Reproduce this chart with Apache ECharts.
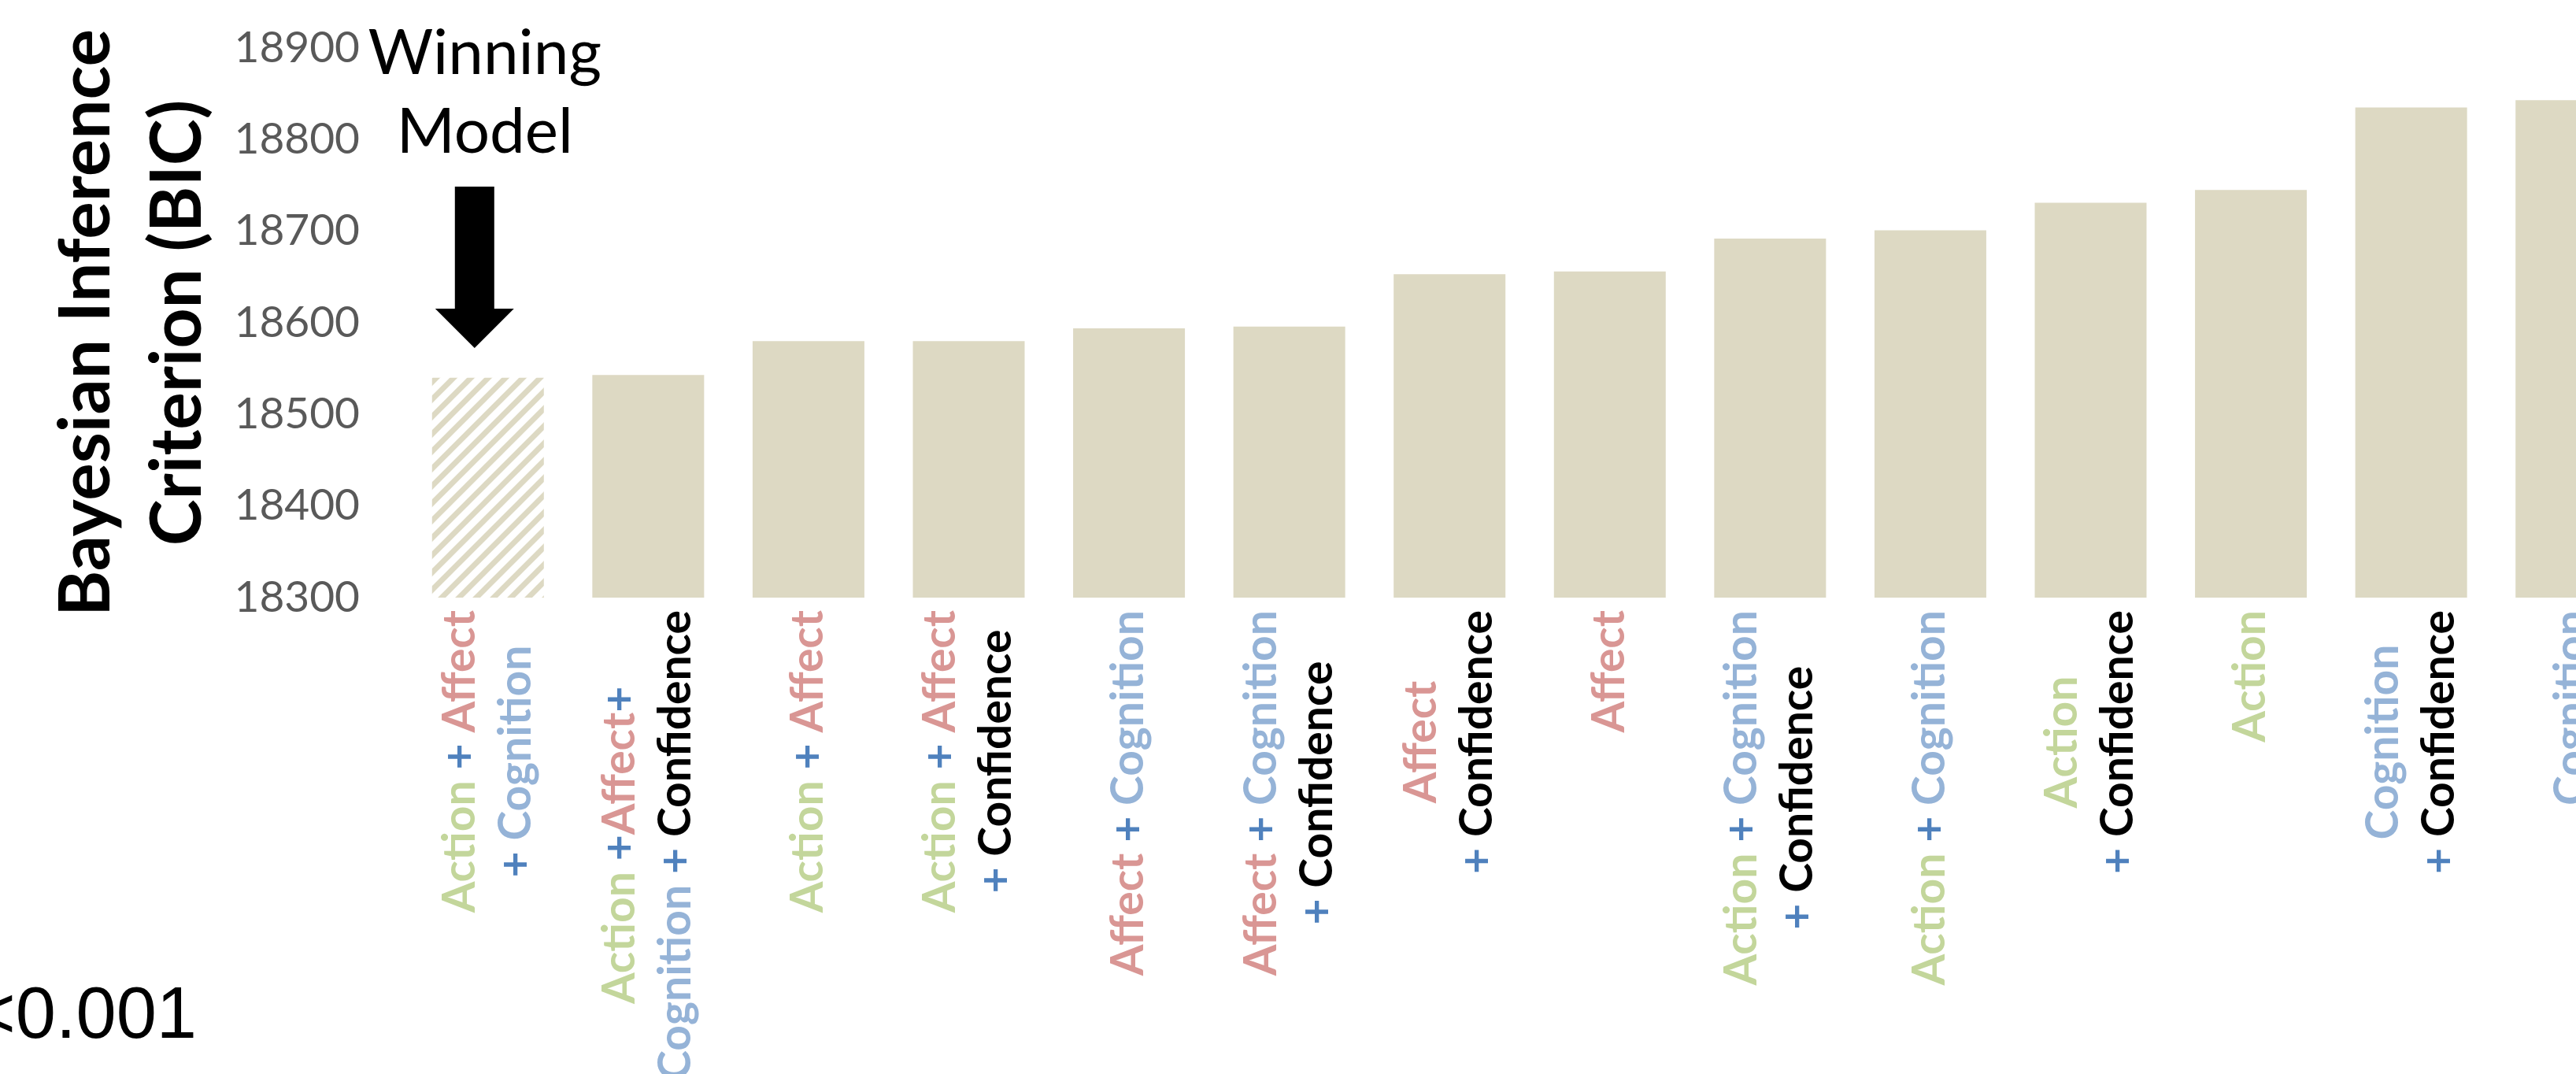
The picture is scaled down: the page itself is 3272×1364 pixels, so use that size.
<!DOCTYPE html>
<html>
<head>
<meta charset="utf-8">
<title>BIC model comparison</title>
<script src="https://cdn.jsdelivr.net/npm/echarts@6/dist/echarts.min.js"></script>
<style>
  html, body { margin: 0; padding: 0; background: #fff; }
  #chart { width: 3272px; height: 1364px; }
</style>
</head>
<body>
<div id="chart"></div>
<script>
// model names (x categories), one line break where the original wraps
const models = [
  'Action + Affect\n+ Cognition',
  'Action +Affect+\nCognition + Confidence',
  'Action + Affect',
  'Action + Affect\n+ Confidence',
  'Affect + Cognition',
  'Affect + Cognition\n+ Confidence',
  'Affect\n+ Confidence',
  'Affect',
  'Action + Cognition\n+ Confidence',
  'Action + Cognition',
  'Action\n+ Confidence',
  'Action',
  'Cognition\n+ Confidence',
  'Cognition'
];
// BIC per model
const bic = [18540, 18543, 18580, 18580, 18594, 18596, 18653, 18656, 18692, 18701, 18731, 18745, 18835, 18843];
// y axis ticks
const yMin = 18300;
const yMax = 18900;
const yStep = 100;

const barColor = '#DDD9C3';
const wordStyle = { Action: 'a', Affect: 'f', Cognition: 'c', Confidence: 'k' };

// every piece of the label goes through a rich style, so lines can be centred
function richLabel(txt) {
  return txt.split('\n').map(function (line) {
    return line.split(/(\+|\s+)/).filter(function (s) { return s; }).map(function (tok) {
      if (tok === '+') return '{p|+}';
      if (/^\s+$/.test(tok)) return '{s|' + tok + '}';
      return '{' + wordStyle[tok] + '|' + tok + '}';
    }).join('');
  }).join('\n');
}

function hatch() {
  const c = document.createElement('canvas');
  c.width = 22; c.height = 22;
  const g = c.getContext('2d');
  g.fillStyle = '#fff';
  g.fillRect(0, 0, 22, 22);
  g.strokeStyle = barColor;
  g.lineWidth = 7;
  g.beginPath();
  g.moveTo(-11, 11); g.lineTo(11, -11);
  g.moveTo(0, 22); g.lineTo(22, 0);
  g.moveTo(11, 33); g.lineTo(33, 11);
  g.stroke();
  return c;
}

const labelFont = { fontFamily: 'Lato', fontWeight: 'bold', fontSize: 57, lineHeight: 71, align: 'center' };
const rich = {
  a: Object.assign({ color: '#C3D69B' }, labelFont),
  f: Object.assign({ color: '#D99694' }, labelFont),
  c: Object.assign({ color: '#95B3D7' }, labelFont),
  k: Object.assign({ color: '#000000' }, labelFont),
  p: Object.assign({ color: '#4F81BD' }, labelFont),
  s: Object.assign({ color: '#000000' }, labelFont)
};

const chart = echarts.init(document.getElementById('chart'));

const option = {
  animation: false,
  backgroundColor: '#fff',
  grid: {
    left: 518,
    right: -96,
    top: 61,
    bottom: 605,
    containLabel: false,
    outerBoundsMode: 'none'
  },
  xAxis: {
    type: 'category',
    data: models,
    axisLine: { show: false },
    axisTick: { show: false },
    axisLabel: {
      interval: 0,
      rotate: 90,
      margin: 16,
      formatter: richLabel,
      rich: rich
    }
  },
  yAxis: {
    type: 'value',
    min: yMin,
    max: yMax,
    interval: yStep,
    name: 'Bayesian Inference\nCriterion (BIC)',
    nameLocation: 'middle',
    nameRotate: 90,
    nameGap: 234,
    nameTextStyle: {
      fontFamily: 'Lato',
      fontWeight: 'bold',
      fontSize: 89,
      lineHeight: 116,
      color: '#000'
    },
    axisLine: { show: false },
    axisTick: { show: false },
    splitLine: { show: false },
    axisLabel: {
      margin: 61,
      color: '#595959',
      fontFamily: 'Lato',
      fontSize: 55,
      formatter: function (v) { return String(v); }
    }
  },
  series: [{
    type: 'bar',
    barWidth: 142,
    itemStyle: { color: barColor },
    data: bic.map(function (v, i) {
      return i === 0 ? { value: v, itemStyle: { color: { image: hatch(), repeat: 'repeat' } } } : v;
    })
  }]
};
chart.setOption(option);

// annotations anchored on the winning bar
const win = chart.convertToPixel({ seriesIndex: 0 }, [0, bic[0]]);
const ax = win[0] - 17;
chart.setOption({
  graphic: [
    {
      type: 'text',
      x: win[0] - 4,
      y: 18,
      style: {
        text: 'Winning\nModel',
        fontFamily: 'Lato',
        fontSize: 80,
        lineHeight: 100,
        fill: '#000',
        align: 'center',
        verticalAlign: 'top'
      }
    },
    {
      type: 'polygon',
      shape: {
        points: [
          [ax - 25, 237], [ax + 25, 237], [ax + 25, 392], [ax + 50, 392],
          [ax, 442], [ax - 50, 392], [ax - 25, 392]
        ]
      },
      style: { fill: '#000' }
    },
    {
      type: 'text',
      x: 250,
      y: 1339,
      style: {
        text: 'p<0.001',
        fontFamily: 'Liberation Sans',
        fontSize: 92,
        fill: '#000',
        align: 'right',
        verticalAlign: 'bottom'
      }
    }
  ]
});
</script>
</body>
</html>
